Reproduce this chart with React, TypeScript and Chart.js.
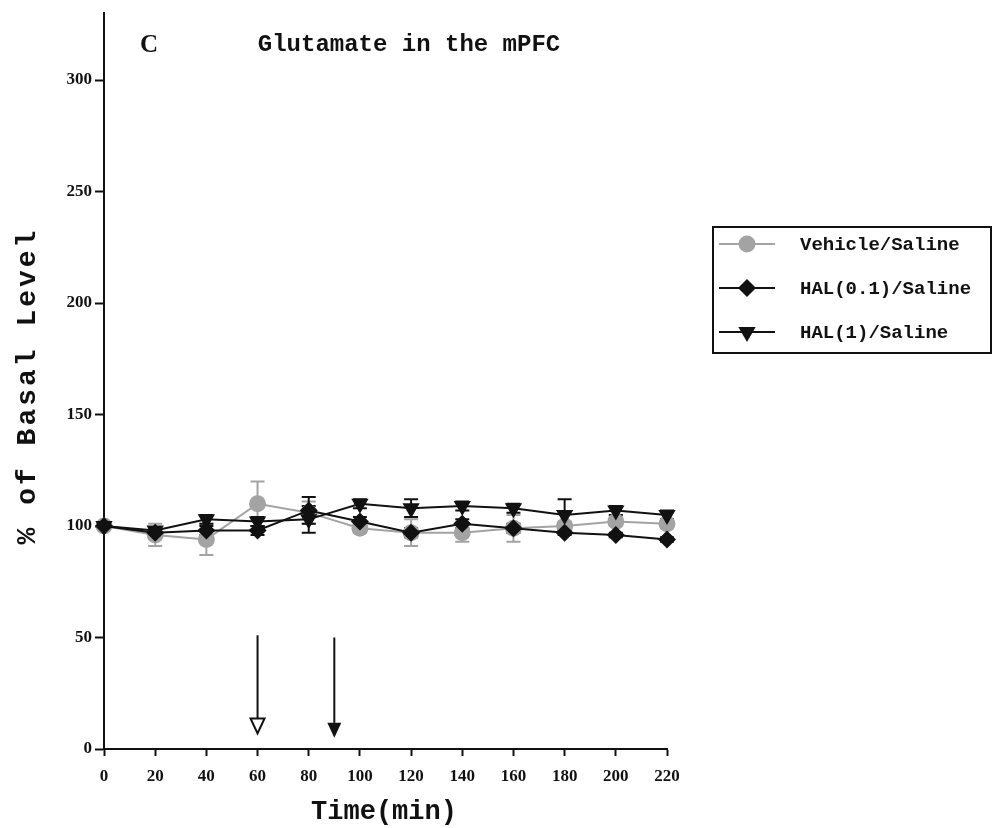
import React, { useEffect, useRef } from "react";
import { Chart, registerables } from "chart.js";

Chart.register(...registerables);

// ---- data ----
const times = [0, 20, 40, 60, 80, 100, 120, 140, 160, 180, 200, 220];
const vehicle = [100, 96, 94, 110, 106, 99, 97, 97, 99, 100, 102, 101];
const vehicleErr = [0, 5, 7, 10, 5, 2, 6, 4, 6, 2, 2, 2];
const hal01 = [100, 97, 98, 98, 107, 102, 97, 101, 99, 97, 96, 94];
const hal01Err = [0, 1, 2, 2, 6, 2, 2, 2, 2, 1, 1, 1];
const hal1 = [100, 98, 103, 102, 103, 110, 108, 109, 108, 105, 107, 105];
const hal1Err = [0, 1, 2, 2, 6, 2, 4, 2, 2, 7, 2, 2];
const seriesNames = ["Vehicle/Saline", "HAL(0.1)/Saline", "HAL(1)/Saline"];
const xTicks = [0, 20, 40, 60, 80, 100, 120, 140, 160, 180, 200, 220];
const yTicks = [0, 50, 100, 150, 200, 250, 300];
// arrows: injection times, top and tip values, filled head
const arrowTimes = [60, 90];
const arrowTops = [51, 50];
const arrowTips = [7, 5];
const arrowFilled = [false, true];

const GRAY = "#a3a3a3";
const INK = "#111111";
const MONO = "'Liberation Mono', 'DejaVu Sans Mono', monospace";
const SERIF = "'Liberation Serif', 'DejaVu Serif', serif";

const toPts = (ys: number[]) => times.map((t, i) => ({ x: t, y: ys[i] }));

function drawMarker(ctx: CanvasRenderingContext2D, style: string, r: number, rot: number, x: number, y: number) {
  ctx.beginPath();
  if (style === "circle") {
    ctx.arc(x, y, r, 0, Math.PI * 2);
  } else if (style === "rectRot") {
    ctx.moveTo(x, y - r);
    ctx.lineTo(x + r, y);
    ctx.lineTo(x, y + r);
    ctx.lineTo(x - r, y);
    ctx.closePath();
  } else {
    let a = (rot * Math.PI) / 180;
    ctx.moveTo(x + Math.sin(a) * r, y - Math.cos(a) * r);
    a += (2 * Math.PI) / 3;
    ctx.lineTo(x + Math.sin(a) * r, y - Math.cos(a) * r);
    a += (2 * Math.PI) / 3;
    ctx.lineTo(x + Math.sin(a) * r, y - Math.cos(a) * r);
    ctx.closePath();
  }
  ctx.fill();
}

const errorBarPlugin = {
  id: "errorBars",
  beforeDatasetsDraw(chart: any) {
    const ctx = chart.ctx;
    const xs = chart.scales.x;
    const ys = chart.scales.y;
    const metas = chart.getSortedVisibleDatasetMetas().slice().reverse();
    ctx.save();
    for (const meta of metas) {
      const ds: any = chart.data.datasets[meta.index];
      const errs: number[] = ds.errors || [];
      ctx.strokeStyle = ds.borderColor;
      ctx.lineWidth = 2;
      ds.data.forEach((p: any, i: number) => {
        const e = errs[i];
        if (!e) return;
        const px = xs.getPixelForValue(p.x);
        const top = ys.getPixelForValue(p.y + e);
        const bot = ys.getPixelForValue(p.y - e);
        ctx.beginPath();
        ctx.moveTo(px, top);
        ctx.lineTo(px, bot);
        ctx.moveTo(px - 7, top);
        ctx.lineTo(px + 7, top);
        ctx.moveTo(px - 7, bot);
        ctx.lineTo(px + 7, bot);
        ctx.stroke();
      });
    }
    ctx.restore();
  },
};

const decorPlugin = {
  id: "decor",
  afterDraw(chart: any) {
    const ctx = chart.ctx;
    const xs = chart.scales.x;
    const ys = chart.scales.y;
    ctx.save();
    // arrows
    arrowTimes.forEach((t, i) => {
      const px = xs.getPixelForValue(t);
      const yTop = ys.getPixelForValue(arrowTops[i]);
      const yTip = ys.getPixelForValue(arrowTips[i]);
      const headH = 15;
      const headW = 7;
      ctx.strokeStyle = INK;
      ctx.fillStyle = INK;
      ctx.lineWidth = 2;
      ctx.beginPath();
      ctx.moveTo(px, yTop);
      ctx.lineTo(px, yTip - headH);
      ctx.stroke();
      ctx.beginPath();
      ctx.moveTo(px - headW, yTip - headH);
      ctx.lineTo(px + headW, yTip - headH);
      ctx.lineTo(px, yTip);
      ctx.closePath();
      if (arrowFilled[i]) ctx.fill();
      else {
        ctx.fillStyle = "#fff";
        ctx.fill();
        ctx.stroke();
      }
    });

    // title texts
    ctx.fillStyle = INK;
    ctx.textBaseline = "middle";
    ctx.textAlign = "center";
    ctx.font = `bold 24px ${MONO}`;
    ctx.fillText("Glutamate in the mPFC", 409, 45);
    ctx.font = `bold 25px ${SERIF}`;
    ctx.fillText("C", 149, 46);

    // x-axis title
    ctx.font = `bold 27px ${MONO}`;
    ctx.fillText("Time(min)", 384, 812);

    // y-axis title
    ctx.save();
    ctx.translate(28, 386);
    ctx.rotate(-Math.PI / 2);
    ctx.font = `bold 28px ${MONO}`;
    (ctx as any).letterSpacing = "3px";
    ctx.fillText("% of Basal Level", 0, 0);
    ctx.restore();

    // legend
    const bx = 712, by = 226, bw = 280, bh = 128;
    ctx.strokeStyle = INK;
    ctx.lineWidth = 2;
    ctx.strokeRect(bx + 1, by + 1, bw - 2, bh - 2);
    const rowY = [244, 288, 332];
    chart.data.datasets.forEach((ds: any, i: number) => {
      const y = rowY[i];
      ctx.strokeStyle = ds.borderColor;
      ctx.lineWidth = ds.borderWidth;
      ctx.beginPath();
      ctx.moveTo(719, y);
      ctx.lineTo(775, y);
      ctx.stroke();
      ctx.fillStyle = ds.pointBackgroundColor;
      drawMarker(ctx, ds.pointStyle, ds.pointRadius, ds.pointRotation || 0, 747, y);
      ctx.fillStyle = INK;
      ctx.textAlign = "left";
      ctx.font = `bold 19px ${MONO}`;
      ctx.fillText(ds.label, 800, y + 1);
    });
    ctx.restore();
  },
};

export default function App() {
  const ref = useRef<HTMLCanvasElement>(null);
  useEffect(() => {
    const tickFont = { family: SERIF, weight: "bold" as const, size: 17 };
    const chart = new Chart(ref.current!, {
      type: "line",
      data: {
        datasets: [
          {
            label: seriesNames[0],
            data: toPts(vehicle),
            errors: vehicleErr,
            borderColor: GRAY,
            borderWidth: 2,
            pointStyle: "circle",
            pointRadius: 8.5,
            pointBackgroundColor: GRAY,
            pointBorderColor: GRAY,
            pointBorderWidth: 0,
            clip: false,
            order: 3,
          } as any,
          {
            label: seriesNames[1],
            data: toPts(hal01),
            errors: hal01Err,
            borderColor: INK,
            borderWidth: 2,
            pointStyle: "rectRot",
            pointRadius: 9,
            pointBackgroundColor: INK,
            pointBorderColor: INK,
            pointBorderWidth: 0,
            clip: false,
            order: 2,
          } as any,
          {
            label: seriesNames[2],
            data: toPts(hal1),
            errors: hal1Err,
            borderColor: INK,
            borderWidth: 2,
            pointStyle: "triangle",
            pointRotation: 180,
            pointRadius: 10,
            pointBackgroundColor: INK,
            pointBorderColor: INK,
            pointBorderWidth: 0,
            clip: false,
            order: 1,
          } as any,
        ],
      },
      options: {
        responsive: false,
        animation: false,
        devicePixelRatio: 1,
        layout: { padding: { left: 0, right: 326, top: 11, bottom: 0 } },
        plugins: { legend: { display: false }, tooltip: { enabled: false }, title: { display: false } },
        elements: { line: { tension: 0 } },
        scales: {
          x: {
            type: "linear",
            min: 0,
            max: 220,
            afterBuildTicks: (s: any) => {
              s.ticks = xTicks.map((v) => ({ value: v }));
            },
            afterFit: (s: any) => {
              s.height = 79;
            },
            grid: { display: true, drawOnChartArea: false, drawTicks: true, tickLength: 7, tickWidth: 2, tickColor: INK },
            border: { display: true, color: INK, width: 2 },
            ticks: { font: tickFont, color: INK, padding: 10, maxRotation: 0, autoSkip: false },
          },
          y: {
            type: "linear",
            min: 0,
            max: 330,
            afterBuildTicks: (s: any) => {
              s.ticks = yTicks.map((v) => ({ value: v }));
            },
            afterFit: (s: any) => {
              s.width = 104;
            },
            grid: { display: true, drawOnChartArea: false, drawTicks: true, tickLength: 9, tickWidth: 2, tickColor: INK },
            border: { display: true, color: INK, width: 2 },
            ticks: { font: tickFont, color: INK, padding: 3, autoSkip: false },
          },
        },
      } as any,
      plugins: [errorBarPlugin, decorPlugin],
    });
    return () => chart.destroy();
  }, []);
  return (
    <div style={{ position: "absolute", left: 0, top: 0, width: 993, height: 828, background: "#fff" }}>
      <canvas ref={ref} width={993} height={828} style={{ display: "block", width: 993, height: 828 }} />
    </div>
  );
}
